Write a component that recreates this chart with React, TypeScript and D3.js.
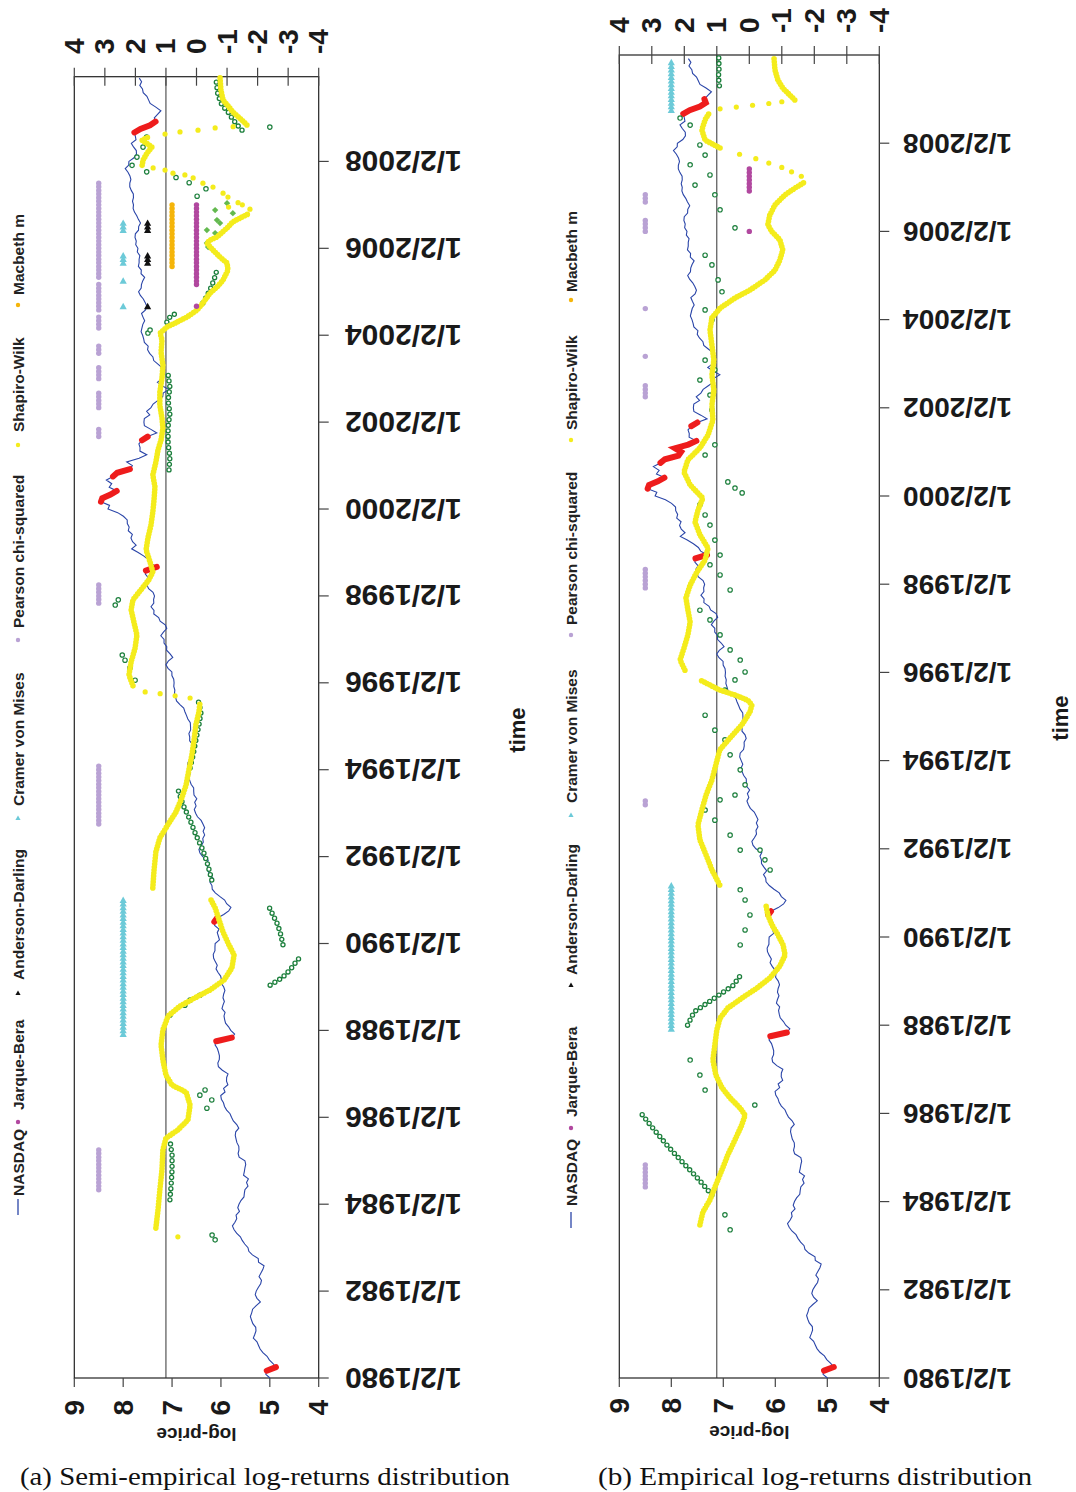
import React from "react";
import * as d3 from "d3";

type Pt = [number, number];
type Range = [number, number];

// NASDAQ Composite level at the start of each month, Jan 1980 onward
const nasdaqLevel: number[] = [
  148,
  161, 158, 131, 139, 150, 157, 171, 181, 187, 193, 208, 202,
  197, 198, 210, 216, 221, 215, 211, 196, 180, 193, 200, 196,
  188, 179, 176, 185, 178, 171, 167, 187, 188, 212, 228, 232,
  248, 261, 271, 293, 309, 319, 303, 292, 296, 276, 286, 279,
  268, 252, 250, 247, 232, 239, 230, 254, 250, 247, 243, 247,
  278, 284, 279, 280, 291, 296, 301, 298, 280, 292, 313, 325,
  335, 359, 375, 383, 400, 405, 371, 382, 350, 360, 359, 349,
  392, 425, 430, 417, 416, 424, 434, 455, 444, 323, 305, 330,
  345, 367, 374, 379, 371, 395, 387, 376, 387, 382, 372, 381,
  401, 399, 406, 428, 446, 435, 453, 469, 472, 456, 456, 454,
  416, 425, 435, 420, 459, 462, 438, 381, 344, 329, 359, 374,
  414, 453, 482, 485, 506, 476, 502, 526, 527, 542, 523, 586,
  620, 633, 603, 579, 585, 563, 581, 563, 583, 605, 652, 677,
  696, 671, 690, 661, 700, 704, 705, 743, 763, 779, 754, 777,
  800, 793, 743, 733, 735, 706, 722, 765, 764, 777, 750, 752,
  755, 794, 817, 843, 864, 933, 1001, 1020, 1044, 1036, 1059, 1052,
  1060, 1100, 1101, 1191, 1243, 1185, 1081, 1142, 1227, 1222, 1293, 1291,
  1380, 1309, 1222, 1261, 1400, 1442, 1594, 1587, 1686, 1593, 1601, 1570,
  1619, 1771, 1835, 1868, 1779, 1895, 1873, 1499, 1694, 1771, 1950, 2193,
  2506, 2288, 2461, 2543, 2471, 2686, 2638, 2739, 2746, 2966, 3336, 4069,
  3940, 4697, 4573, 3861, 3401, 3966, 3767, 4206, 3673, 3370, 2598, 2471,
  2773, 2152, 1840, 2116, 2110, 2161, 2027, 1805, 1499, 1690, 1931, 1950,
  1934, 1731, 1845, 1688, 1616, 1463, 1328, 1315, 1172, 1330, 1479, 1336,
  1321, 1338, 1341, 1464, 1596, 1623, 1735, 1810, 1787, 1932, 1960, 2003,
  2066, 2030, 1994, 1920, 1987, 2048, 1887, 1838, 1897, 1975, 2097, 2175,
  2062, 2052, 1999, 1922, 2068, 2057, 2185, 2152, 2152, 2120, 2233, 2205,
  2306, 2281, 2340, 2323, 2179, 2172, 2091, 2184, 2258, 2367, 2432, 2415,
  2464, 2416, 2422, 2525, 2605, 2603, 2546, 2596, 2702, 2859, 2661, 2652,
  2389, 2271, 2279, 2413, 2523, 2293, 2326, 2368, 2092, 1721, 1536, 1577,
  1476, 1378, 1529, 1717, 1774, 1835, 1979, 2009, 2122, 2045, 2145,
];

const yearTicks = [1980, 1982, 1984, 1986, 1988, 1990, 1992, 1994, 1996, 1998, 2000, 2002, 2004, 2006, 2008];
const priceTicks = [9, 8, 7, 6, 5, 4];
const scoreTicks = [4, 3, 2, 1, 0, -1, -2, -3, -4];
const legendNames = ["NASDAQ", "Jarque-Bera", "Anderson-Darling", "Cramer von Mises", "Pearson chi-squared", "Shapiro-Wilk", "Macbeth m"];

// ---------- (a) semi-empirical ----------
const crashA: Range[] = [[1980.16, 1980.26], [1987.74, 1987.84], [1990.5, 1990.6], [1998.57, 1998.67], [2000.16, 2000.42], [2000.74, 2000.92], [2001.57, 2001.67], [2008.65, 2008.92]];

const pearsonA: Range[] = [[1984.3, 1985.25], [1992.7, 1994.1], [1997.8, 1998.3], [2001.6, 2001.9], [2002.3, 2002.7], [2003.0, 2003.3], [2003.55, 2003.8], [2004.15, 2004.42], [2004.58, 2005.17], [2005.33, 2007.5]];
const cvmA: Range[] = [[1987.9, 1991.0], [2004.6, 2004.7], [2005.2, 2005.25], [2005.6, 2005.9], [2006.4, 2006.6]];
const adA: Range[] = [[2004.6, 2004.7], [2005.6, 2005.9], [2006.1, 2006.15], [2006.4, 2006.6]];
const macbethA: Range[] = [[2005.57, 2007.07]];
const jbA: Range[] = [[2004.6, 2004.7], [2005.12, 2007.07]];

const yellowA: Pt[][] = [
  [[1983.45, 1.33], [1983.87, 1.26], [1984.33, 1.2], [1984.79, 1.13], [1985.25, 1.1], [1985.52, 1.0], [1985.71, 0.61], [1985.94, 0.28], [1986.28, 0.21], [1986.58, 0.34], [1986.74, 0.8], [1986.97, 1.0], [1987.32, 1.1], [1987.66, 1.16], [1988.01, 1.1], [1988.33, 0.93], [1988.56, 0.54], [1988.75, 0.05], [1988.93, -0.44], [1989.16, -0.9], [1989.44, -1.16], [1989.74, -1.23], [1989.97, -1.06], [1990.26, -0.87], [1990.54, -0.74], [1990.82, -0.61], [1991.05, -0.44]],
  [[1991.28, 1.43], [1991.69, 1.39], [1992.11, 1.33], [1992.43, 1.2], [1992.73, 0.94], [1993.03, 0.67], [1993.35, 0.48], [1993.65, 0.34], [1993.99, 0.25], [1994.34, 0.15], [1994.68, 0.08], [1995.03, 0.02], [1995.33, -0.08], [1995.53, -0.11]],
  [[1995.93, 2.08], [1996.18, 2.21], [1996.48, 2.14], [1996.8, 2.01], [1997.1, 1.95], [1997.4, 2.05], [1997.68, 2.14], [1997.91, 2.08], [1998.14, 1.82], [1998.37, 1.56], [1998.55, 1.43], [1998.78, 1.52], [1999.06, 1.65], [1999.33, 1.59], [1999.63, 1.49], [1999.93, 1.43], [2000.21, 1.39], [2000.51, 1.36], [2000.78, 1.43], [2001.08, 1.33], [2001.36, 1.26], [2001.59, 1.16], [2001.86, 1.1], [2002.09, 1.13], [2002.39, 1.2], [2002.69, 1.2], [2003.01, 1.13], [2003.31, 1.1], [2003.61, 1.16], [2003.89, 1.13], [2004.05, 1.19], [2004.19, 0.97], [2004.3, 0.64], [2004.42, 0.31], [2004.58, -0.02], [2004.74, -0.21], [2004.97, -0.44], [2005.11, -0.67], [2005.27, -0.87], [2005.5, -1.03], [2005.66, -1.0], [2005.8, -0.77], [2005.96, -0.54], [2006.12, -0.34], [2006.19, -0.44], [2006.26, -0.67], [2006.49, -1.03], [2006.61, -1.19], [2006.72, -1.49], [2006.81, -1.75]],
  [[2007.91, 1.78], [2008.03, 1.75], [2008.19, 1.62], [2008.33, 1.46], [2008.49, 1.78], [2008.58, 1.52]],
  [[2008.84, -1.65], [2008.95, -1.49], [2009.14, -1.19], [2009.28, -1.03], [2009.41, -0.87], [2009.64, -0.8], [2009.94, -0.77]],
];
const yellowDotsA: Pt[] = [[1983.25, 0.61], [1995.65, 0.21], [1995.7, 0.7], [1995.75, 1.19], [1995.79, 1.68], [2006.9, -1.75], [2007.0, -1.5], [2006.95, -1.05], [2007.05, -1.36], [2007.18, -1.03], [2007.27, -0.87], [2007.41, -0.54], [2007.5, -0.21], [2007.62, 0.11], [2007.69, 0.38], [2007.73, 0.77], [2007.8, 1.03], [2007.85, 1.42], [2008.63, 1.03], [2008.68, 0.54], [2008.72, -0.05], [2008.77, -0.61], [2008.8, -1.2]];

const greenA: Pt[][] = [
  [[2008.72, -1.49], [2008.84, -1.33], [2009.0, -1.16], [2009.14, -1.03], [2009.3, -0.83], [2009.53, -0.7], [2009.94, -0.63]],
  [[2004.3, 0.97], [2004.42, 0.87], [2004.53, 0.61]],
  [[2004.74, -0.21], [2005.04, -0.44], [2005.27, -0.57], [2005.5, -0.67]],
  [[2000.9, 0.9], [2001.2, 0.87], [2001.5, 0.93], [2001.9, 0.93], [2002.2, 0.87], [2002.5, 0.93], [2002.8, 0.87], [2003.1, 0.93]],
  [[1991.46, -0.5], [1991.81, -0.37], [1992.15, -0.21], [1992.5, 0.02], [1992.84, 0.21], [1993.19, 0.44], [1993.53, 0.6]],
  [[1994.04, 0.21], [1994.34, 0.11], [1994.68, 0.02], [1995.03, -0.08], [1995.33, -0.15], [1995.6, -0.05]],
  [[1989.97, -2.83], [1990.2, -2.76], [1990.43, -2.66], [1990.66, -2.5], [1990.89, -2.34]],
  [[1989.04, -2.41], [1989.21, -2.8], [1989.39, -3.06], [1989.57, -3.25], [1989.74, -3.45]],
  [[1984.1, 0.87], [1984.44, 0.83], [1984.79, 0.8], [1985.13, 0.8], [1985.48, 0.87]],
];
const greenDotsA: Pt[] = [[2008.79, -2.4], [2008.56, 1.63], [2008.33, 1.75], [2008.1, 1.95], [2007.91, 2.11], [2007.76, 1.63], [2007.63, 0.67], [2007.51, 0.24], [2007.37, -0.31], [2007.2, -0.02], [2004.05, 1.59], [2004.12, 1.52], [1996.64, 2.43], [1996.52, 2.34], [1996.34, 2.18], [1996.06, 2.01], [1997.91, 2.56], [1997.79, 2.66], [1988.7, 0.21], [1988.81, -0.11], [1988.58, 0.38], [1988.35, 0.87], [1986.63, -0.28], [1986.4, -0.5], [1986.21, -0.34], [1986.51, -0.11], [1983.29, -0.51], [1983.18, -0.61]];
const greenFilledA: Pt[] = [[2007.04, -1.0], [2006.88, -0.61], [2006.81, -1.19], [2006.65, -0.67], [2006.58, -0.77], [2006.42, -0.34], [2006.35, -0.61], [2006.12, -0.34], [2006.03, -0.38]];

// ---------- (b) empirical ----------
const crashB: Range[] = [[1980.16, 1980.26], [1987.74, 1987.84], [1990.5, 1990.6], [1998.57, 1998.67], [2000.16, 2000.42], [2000.74, 2001.25], [2001.57, 2001.67], [2008.65, 2009.0]];

const pearsonB: Range[] = [[1984.3, 1984.9], [1993.0, 1993.1], [1997.9, 1998.4], [2002.2, 2002.5], [2003.1, 2003.2], [2004.2, 2004.3], [2006.0, 2006.3], [2006.6, 2006.9]];
const cvmB: Range[] = [[1987.9, 1991.2], [2008.75, 2009.9]];
const adB: Range[] = [];
const macbethB: Range[] = [];
const jbB: Range[] = [[2006.0, 2006.05], [2006.9, 2007.45]];

const yellowB: Pt[][] = [
  [[1983.47, 1.52], [1983.76, 1.43], [1984.04, 1.21], [1984.38, 1.03], [1984.72, 0.84], [1985.06, 0.66], [1985.4, 0.44], [1985.74, 0.23], [1985.96, 0.13], [1986.12, 0.28], [1986.35, 0.59], [1986.58, 0.84], [1986.87, 1.03], [1987.21, 1.12], [1987.55, 1.06], [1987.89, 1.0], [1988.16, 0.9], [1988.39, 0.66], [1988.62, 0.22], [1988.84, -0.23], [1989.07, -0.63], [1989.34, -0.94], [1989.59, -1.1], [1989.82, -1.04], [1990.05, -0.88], [1990.27, -0.7], [1990.5, -0.57], [1990.73, -0.51]],
  [[1991.18, 0.91], [1991.52, 1.15], [1991.86, 1.33], [1992.2, 1.52], [1992.54, 1.58], [1992.88, 1.46], [1993.22, 1.33], [1993.56, 1.15], [1993.9, 1.03], [1994.24, 0.91], [1994.51, 0.6], [1994.81, 0.23], [1995.1, -0.02], [1995.26, -0.08], [1995.37, 0.05], [1995.49, 0.45], [1995.6, 0.91], [1995.83, 1.52]],
  [[1996.05, 1.98], [1996.28, 2.13], [1996.55, 2.01], [1996.85, 1.89], [1997.14, 1.82], [1997.42, 1.89], [1997.69, 1.95], [1997.98, 1.82], [1998.28, 1.61], [1998.55, 1.36], [1998.82, 1.27], [1999.12, 1.52], [1999.41, 1.67], [1999.68, 1.58], [1999.95, 1.43], [2000.25, 1.82], [2000.54, 2.01], [2000.82, 1.89], [2001.09, 1.52], [2001.38, 1.27], [2001.72, 1.12], [2002.06, 1.15], [2002.4, 1.09], [2002.74, 1.15], [2003.08, 1.09], [2003.42, 1.15], [2003.76, 1.21], [2004.04, 1.15], [2004.26, 0.9], [2004.49, 0.44], [2004.67, -0.02], [2004.9, -0.48], [2005.12, -0.79], [2005.35, -0.94], [2005.58, -1.03], [2005.81, -0.94], [2005.99, -0.7], [2006.15, -0.57], [2006.37, -0.63], [2006.6, -0.79], [2006.83, -1.1], [2006.98, -1.4], [2007.12, -1.71]],
  [[2007.89, 0.9], [2008.07, 1.36], [2008.3, 1.46], [2008.53, 1.36], [2008.71, 1.21]],
  [[2008.98, -1.4], [2009.09, -1.25], [2009.25, -1.03], [2009.43, -0.88], [2009.66, -0.79], [2009.93, -0.76]],
];
const yellowDotsB: Pt[] = [[2007.25, -1.6], [2007.35, -1.3], [2007.45, -1.0], [2007.55, -0.6], [2007.65, -0.2], [2007.75, 0.3], [2008.78, 0.9], [2008.82, 0.4], [2008.86, -0.1], [2008.9, -0.6], [2008.94, -1.0]];

const greenB: Pt[][] = [
  [[2009.3, 0.92], [2009.5, 0.95], [2009.7, 0.93], [2009.95, 0.94]],
  [[1984.15, 1.15], [1984.5, 1.55], [1984.85, 2.0], [1985.25, 2.5], [1985.65, 2.95], [1986.03, 3.36]],
  [[1988.0, 1.9], [1988.3, 1.7], [1988.6, 1.1], [1988.9, 0.5], [1989.2, 0.2]],
];
const greenDotsB: Pt[] = [
  [2008.57, 2.13], [2008.41, 1.82], [2007.96, 1.52], [2007.73, 1.36], [2007.51, 1.82], [2007.28, 1.21], [2007.05, 1.67], [2006.83, 1.06],
  [2006.49, 0.9], [2006.08, 0.44], [2005.46, 1.36], [2005.24, 1.15], [2004.9, 0.96], [2004.63, 0.84], [2004.22, 1.36], [2003.99, 1.15],
  [2003.08, 1.36], [2002.86, 1.06], [2002.63, 1.52], [2002.29, 1.21], [2001.95, 1.15], [2001.16, 1.06], [2000.93, 1.36], [2000.32, 0.66],
  [2000.18, 0.44], [2000.07, 0.22], [1999.8, 1.52], [1999.57, 1.36], [1999.34, 1.21], [1999.0, 1.06], [1998.66, 0.9], [1998.44, 1.21],
  [1998.21, 0.9], [1997.87, 0.59], [1997.41, 1.52], [1997.19, 1.21], [1996.85, 0.9], [1996.51, 0.59], [1996.28, 0.28], [1996.01, 0.13],
  [1995.83, 0.44], [1995.6, 0.75], [1995.03, 1.36], [1994.69, 1.06], [1994.47, 0.75], [1994.13, 0.59], [1993.79, 0.28], [1993.45, 0.13],
  [1993.22, 0.44], [1993.11, 0.9], [1992.88, 1.36], [1992.65, 1.06], [1992.31, 0.59], [1991.97, 0.28], [1991.97, -0.33], [1991.75, -0.48],
  [1991.52, -0.64], [1991.07, 0.28], [1990.84, 0.13], [1990.5, -0.02], [1990.16, 0.13], [1989.82, 0.28], [1987.21, 1.82], [1986.87, 1.52],
  [1986.53, 1.36], [1986.19, -0.17], [1983.7, 0.75], [1983.36, 0.59],
];
const greenFilledB: Pt[] = [];

// ---------- layout ----------
type Layout = {
  left: number; right: number; top: number; bottom: number; endYear: number;
  dateX: number; dateSize: number; tickSize: number; bottomLabelY: number; topLabelY: number;
  legendX: number; legendMarkerY: number[]; legendTextY: number[];
  timeX: number; timeY: number; titleY: number;
  caption: string; captionX: number; captionW: number;
};

const layoutA: Layout = {
  left: 74.3, right: 318.7, top: 76.7, bottom: 1378, endYear: 2009.95,
  dateX: 345, dateSize: 30, tickSize: 28, bottomLabelY: 1400, topLabelY: 54,
  legendX: 18, legendMarkerY: [1207, 1122, 993, 818, 640, 445, 305], legendTextY: [1196, 1110, 980, 806, 628, 432, 295],
  timeX: 517, timeY: 730, titleY: 1434,
  caption: "(a) Semi-empirical log-returns distribution", captionX: 20, captionW: 490,
};
const layoutB: Layout = {
  left: 619.3, right: 879.3, top: 55, bottom: 1378, endYear: 2010.0,
  dateX: 903, dateSize: 28, tickSize: 28, bottomLabelY: 1398, topLabelY: 33,
  legendX: 571, legendMarkerY: [1220, 1128, 985, 815, 635, 440, 300], legendTextY: [1206, 1117, 975, 803, 625, 430, 292],
  timeX: 1060, timeY: 718, titleY: 1432,
  caption: "(b) Empirical log-returns distribution", captionX: 598, captionW: 434,
};

const COLORS = {
  nasdaq: "#2a45a8",
  crash: "#ee1c1c",
  jb: "#b1489f",
  ad: "#111111",
  cvm: "#6ccad8",
  pearson: "#b9a2d4",
  shapiro: "#f4ec1c",
  macbeth: "#f5b50a",
  green: "#1c7f3c",
  greenFill: "#63b94f",
};

const SANS = "'Liberation Sans', Arial, Helvetica, sans-serif";
const monthYears = nasdaqLevel.map((_, i) => 1980 + i / 12);

function rot(x: number, y: number, a: number) {
  return `translate(${x},${y}) rotate(${a})`;
}

function Triangle({ x, y, fill, s = 3.6 }: { x: number; y: number; fill: string; s?: number }) {
  return <path d={`M${x},${y - s} L${x + s},${y + s * 0.8} L${x - s},${y + s * 0.8} Z`} fill={fill} />;
}

function Panel({ L, crash, pearson, cvm, ad, macbeth, jb, yellow, yellowDots, green, greenDots, greenFilled }: {
  L: Layout; crash: Range[]; pearson: Range[]; cvm: Range[]; ad: Range[]; macbeth: Range[]; jb: Range[];
  yellow: Pt[][]; yellowDots: Pt[]; green: Pt[][]; greenDots: Pt[]; greenFilled: Pt[];
}) {
  const y = d3.scaleLinear().domain([1980, L.endYear]).range([L.bottom, L.top]);
  const xp = d3.scaleLinear().domain([9, 4]).range([L.left, L.right]);
  const xs = d3.scaleLinear().domain([4, -4]).range([L.left, L.right]);

  const priceLine = d3.line<[number, number]>().x((d) => xp(Math.log(d[1]))).y((d) => y(d[0]));
  const series: [number, number][] = nasdaqLevel.map((v, i) => [monthYears[i], v]);
  const scoreLine = d3.line<Pt>().x((d) => xs(d[1])).y((d) => y(d[0])).curve(d3.curveLinear);

  const inRanges = (rs: Range[]) => monthYears.filter((t) => rs.some(([a, b]) => t >= a - 1e-6 && t <= b + 1e-6));

  const cx = (L.left + L.right) / 2;

  return (
    <g>
      {/* plot frame */}
      <rect x={L.left} y={L.top} width={L.right - L.left} height={L.bottom - L.top} fill="none" stroke="#222" strokeWidth={1.2} />
      {/* threshold line at score 1 */}
      <line x1={xs(1)} x2={xs(1)} y1={L.top} y2={L.bottom} stroke="#333" strokeWidth={1} />

      {/* time axis (right) */}
      {yearTicks.map((yr) => (
        <g key={yr}>
          <line x1={L.right} x2={L.right + 10} y1={y(yr)} y2={y(yr)} stroke="#444" strokeWidth={1.2} />
          <text transform={rot(L.dateX, y(yr), 180)} textAnchor="end" dominantBaseline="central"
            fontFamily={SANS} fontWeight="bold" fontSize={L.dateSize} fill="#1a1a1a">{`1/2/${yr}`}</text>
        </g>
      ))}
      <text transform={rot(L.timeX, L.timeY, -90)} textAnchor="middle" dominantBaseline="central"
        fontFamily={SANS} fontWeight="bold" fontSize={22} fill="#1a1a1a">time</text>

      {/* log-price axis (bottom) */}
      {priceTicks.map((v) => (
        <g key={v}>
          <line x1={xp(v)} x2={xp(v)} y1={L.bottom} y2={L.bottom + 9} stroke="#444" strokeWidth={1.2} />
          <text transform={rot(xp(v), L.bottomLabelY, -90)} textAnchor="end" dominantBaseline="central"
            fontFamily={SANS} fontWeight="bold" fontSize={L.tickSize} fill="#1a1a1a">{v}</text>
        </g>
      ))}
      <text transform={rot(cx, L.titleY, 180)} textAnchor="middle" dominantBaseline="central"
        fontFamily={SANS} fontWeight="bold" fontSize={19} fill="#1a1a1a">log-price</text>

      {/* score axis (top) */}
      {scoreTicks.map((v) => (
        <g key={v}>
          <line x1={xs(v)} x2={xs(v)} y1={L.top - 9} y2={L.top + 9} stroke="#444" strokeWidth={1.2} />
          <text transform={rot(xs(v), L.topLabelY, -90)} textAnchor="start" dominantBaseline="central"
            fontFamily={SANS} fontWeight="bold" fontSize={L.tickSize} fill="#1a1a1a">{v}</text>
        </g>
      ))}

      {/* NASDAQ log-price */}
      <path d={priceLine(series) ?? ""} fill="none" stroke={COLORS.nasdaq} strokeWidth={1.1} />
      {crash.map(([a, b], i) => {
        const seg = series.filter((d) => d[0] >= a - 1e-6 && d[0] <= b + 1e-6);
        return <path key={i} d={priceLine(seg) ?? ""} fill="none" stroke={COLORS.crash} strokeWidth={6} strokeLinecap="round" />;
      })}

      {/* green statistic: open rings */}
      {green.map((seg, i) => (
        <g key={i}>
          <path d={scoreLine(seg) ?? ""} fill="none" stroke={COLORS.green} strokeWidth={5.4} strokeLinecap="round" strokeDasharray="0 5.6" />
          <path d={scoreLine(seg) ?? ""} fill="none" stroke="#fff" strokeWidth={2.8} strokeLinecap="round" strokeDasharray="0 5.6" />
        </g>
      ))}
      {greenDots.map(([t, v], i) => (
        <circle key={i} cx={xs(v)} cy={y(t)} r={2.2} fill="#fff" stroke={COLORS.green} strokeWidth={1.2} />
      ))}
      {greenFilled.map(([t, v], i) => (
        <path key={i} d={`M${xs(v)},${y(t) - 3.2} L${xs(v) + 3.2},${y(t)} L${xs(v)},${y(t) + 3.2} L${xs(v) - 3.2},${y(t)} Z`} fill={COLORS.greenFill} />
      ))}

      {/* yellow statistic */}
      {yellow.map((seg, i) => (
        <path key={i} d={scoreLine(seg) ?? ""} fill="none" stroke={COLORS.shapiro} strokeWidth={5.6} strokeLinecap="round" strokeDasharray="0 3" />
      ))}
      {yellowDots.map(([t, v], i) => (
        <circle key={i} cx={xs(v)} cy={y(t)} r={2.6} fill={COLORS.shapiro} />
      ))}

      {/* rejection indicators */}
      {inRanges(pearson).map((t, i) => <circle key={"p" + i} cx={xp(8.5)} cy={y(t)} r={2.7} fill={COLORS.pearson} />)}
      {inRanges(cvm).map((t, i) => <Triangle key={"c" + i} x={xp(8.0)} y={y(t)} fill={COLORS.cvm} />)}
      {inRanges(ad).map((t, i) => <Triangle key={"a" + i} x={xp(7.5)} y={y(t)} fill={COLORS.ad} />)}
      {inRanges(macbeth).map((t, i) => <circle key={"m" + i} cx={xp(7.0)} cy={y(t)} r={2.7} fill={COLORS.macbeth} />)}
      {inRanges(jb).map((t, i) => <circle key={"j" + i} cx={xp(6.5)} cy={y(t)} r={2.7} fill={COLORS.jb} />)}

      {/* legend */}
      <g>
        <line x1={L.legendX} x2={L.legendX} y1={L.legendMarkerY[0] - 8} y2={L.legendMarkerY[0] + 8} stroke={COLORS.nasdaq} strokeWidth={1.3} />
        <circle cx={L.legendX} cy={L.legendMarkerY[1]} r={2.2} fill={COLORS.jb} />
        <Triangle x={L.legendX} y={L.legendMarkerY[2]} fill={COLORS.ad} s={2.6} />
        <Triangle x={L.legendX} y={L.legendMarkerY[3]} fill={COLORS.cvm} s={2.6} />
        <circle cx={L.legendX} cy={L.legendMarkerY[4]} r={2.2} fill={COLORS.pearson} />
        <circle cx={L.legendX} cy={L.legendMarkerY[5]} r={2.2} fill={COLORS.shapiro} />
        <circle cx={L.legendX} cy={L.legendMarkerY[6]} r={2.2} fill={COLORS.macbeth} />
        {legendNames.map((name, i) => (
          <text key={name} transform={rot(L.legendX, L.legendTextY[i], -90)} textAnchor="start" dominantBaseline="central"
            fontFamily={SANS} fontWeight="bold" fontSize={15.5} fill="#222">{name}</text>
        ))}
      </g>

      {/* caption */}
      <text x={L.captionX} y={1485} fontFamily="'Liberation Serif', 'Times New Roman', serif" fontSize={25} fill="#111"
        textLength={L.captionW} lengthAdjust="spacingAndGlyphs">{L.caption}</text>
    </g>
  );
}

export default function App() {
  return (
    <svg width={1076} height={1492} viewBox="0 0 1076 1492" style={{ position: "absolute", left: 0, top: 0, background: "#fff" }}>
      <rect width={1076} height={1492} fill="#fff" />
      <Panel L={layoutA} crash={crashA} pearson={pearsonA} cvm={cvmA} ad={adA} macbeth={macbethA} jb={jbA}
        yellow={yellowA} yellowDots={yellowDotsA} green={greenA} greenDots={greenDotsA} greenFilled={greenFilledA} />
      <Panel L={layoutB} crash={crashB} pearson={pearsonB} cvm={cvmB} ad={adB} macbeth={macbethB} jb={jbB}
        yellow={yellowB} yellowDots={yellowDotsB} green={greenB} greenDots={greenDotsB} greenFilled={greenFilledB} />
    </svg>
  );
}
